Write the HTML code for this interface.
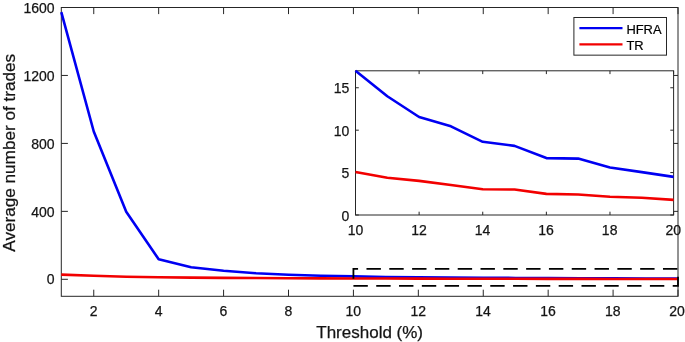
<!DOCTYPE html>
<html><head><meta charset="utf-8"><style>
html,body{margin:0;padding:0;background:#fff;}
body{width:685px;height:342px;overflow:hidden;}
svg{display:block;}
</style></head><body>
<svg width="685" height="342" viewBox="0 0 685 342">
<rect x="0" y="0" width="685" height="342" fill="#ffffff"/>
<g stroke="#262626" stroke-width="1.0" fill="none">
<rect x="61.3" y="7.5" width="616.70" height="288.80"/>
<path d="M93.76,296.3 v-6.6 M93.76,7.5 v6.6"/>
<path d="M158.67,296.3 v-6.6 M158.67,7.5 v6.6"/>
<path d="M223.59,296.3 v-6.6 M223.59,7.5 v6.6"/>
<path d="M288.51,296.3 v-6.6 M288.51,7.5 v6.6"/>
<path d="M353.42,296.3 v-6.6 M353.42,7.5 v6.6"/>
<path d="M418.34,296.3 v-6.6 M418.34,7.5 v6.6"/>
<path d="M483.25,296.3 v-6.6 M483.25,7.5 v6.6"/>
<path d="M548.17,296.3 v-6.6 M548.17,7.5 v6.6"/>
<path d="M613.08,296.3 v-6.6 M613.08,7.5 v6.6"/>
<path d="M678.00,296.3 v-6.6 M678.00,7.5 v6.6"/>
<path d="M61.3,279.31 h6.6 M678.0,279.31 h-6.6"/>
<path d="M61.3,211.36 h6.6 M678.0,211.36 h-6.6"/>
<path d="M61.3,143.41 h6.6 M678.0,143.41 h-6.6"/>
<path d="M61.3,75.45 h6.6 M678.0,75.45 h-6.6"/>
<path d="M61.3,7.50 h6.6 M678.0,7.50 h-6.6"/>
</g>
<polyline points="61.30,12.09 93.76,131.51 126.22,211.70 158.67,259.27 191.13,267.25 223.59,270.82 256.05,273.20 288.51,274.72 320.96,275.74 353.42,276.42 385.88,276.93 418.34,277.35 450.79,277.54 483.25,277.85 515.71,277.93 548.17,278.17 580.63,278.18 613.08,278.36 645.54,278.45 678.00,278.55" fill="none" stroke="#0000f2" stroke-width="2.6" stroke-linejoin="round" stroke-linecap="butt"/>
<polyline points="61.30,274.64 93.76,275.74 126.22,276.68 158.67,277.27 191.13,277.65 223.59,277.88 256.05,278.07 288.51,278.22 320.96,278.34 353.42,278.45 385.88,278.56 418.34,278.63 450.79,278.71 483.25,278.80 515.71,278.80 548.17,278.89 580.63,278.90 613.08,278.95 645.54,278.97 678.00,279.01" fill="none" stroke="#f20000" stroke-width="2.6" stroke-linejoin="round" stroke-linecap="butt"/>
<path d="M353.42,285.80 L678.00,285.80 L678.00,268.90 L353.42,268.90 Z" fill="none" stroke="#000" stroke-width="1.8" stroke-dasharray="14.4 8.407" stroke-linejoin="miter"/>
<g font-family="Liberation Sans, Arial, Helvetica, sans-serif" font-size="14" fill="#141414" stroke="#141414" stroke-width="0.25">
<text x="93.76" y="315.9" text-anchor="middle">2</text>
<text x="158.64" y="315.9" text-anchor="middle">4</text>
<text x="223.52" y="315.9" text-anchor="middle">6</text>
<text x="288.41" y="315.9" text-anchor="middle">8</text>
<text x="353.29" y="315.9" text-anchor="middle">10</text>
<text x="418.17" y="315.9" text-anchor="middle">12</text>
<text x="483.05" y="315.9" text-anchor="middle">14</text>
<text x="547.94" y="315.9" text-anchor="middle">16</text>
<text x="612.82" y="315.9" text-anchor="middle">18</text>
<text x="677.10" y="315.9" text-anchor="middle">20</text>
<text x="54.6" y="284.46" text-anchor="end">0</text>
<text x="54.6" y="216.51" text-anchor="end">400</text>
<text x="54.6" y="148.56" text-anchor="end">800</text>
<text x="54.6" y="80.60" text-anchor="end">1200</text>
<text x="54.6" y="12.65" text-anchor="end">1600</text>
</g>
<text x="369.65" y="337.7" text-anchor="middle" font-family="Liberation Sans, Arial, sans-serif" font-size="17" fill="#141414" stroke="#141414" stroke-width="0.25">Threshold (%)</text>
<text transform="translate(14.5,152.80) rotate(-90)" x="0" y="0" text-anchor="middle" font-family="Liberation Sans, Arial, sans-serif" font-size="17.15" fill="#141414" stroke="#141414" stroke-width="0.25">Average number of trades</text>
<rect x="355.5" y="70.8" width="318.10" height="144.20" fill="#fff"/>
<g stroke="#262626" stroke-width="1.0" fill="none">
<rect x="355.5" y="70.8" width="318.10" height="144.20"/>
<path d="M355.50,215.0 v-3.3 M355.50,70.8 v3.3"/>
<path d="M419.12,215.0 v-3.3 M419.12,70.8 v3.3"/>
<path d="M482.74,215.0 v-3.3 M482.74,70.8 v3.3"/>
<path d="M546.36,215.0 v-3.3 M546.36,70.8 v3.3"/>
<path d="M609.98,215.0 v-3.3 M609.98,70.8 v3.3"/>
<path d="M673.60,215.0 v-3.3 M673.60,70.8 v3.3"/>
<path d="M355.5,215.00 h3.3 M673.6,215.00 h-3.3"/>
<path d="M355.5,172.59 h3.3 M673.6,172.59 h-3.3"/>
<path d="M355.5,130.18 h3.3 M673.6,130.18 h-3.3"/>
<path d="M355.5,87.76 h3.3 M673.6,87.76 h-3.3"/>
</g>
<polyline points="355.50,70.80 387.31,96.25 419.12,117.03 450.93,126.36 482.74,141.80 514.55,145.87 546.36,158.08 578.17,158.59 609.98,167.50 641.79,172.16 673.60,176.91" fill="none" stroke="#0000f2" stroke-width="2.6" stroke-linejoin="round" stroke-linecap="butt"/>
<polyline points="355.50,171.91 387.31,177.68 419.12,180.90 450.93,185.06 482.74,189.21 514.55,189.55 546.36,193.88 578.17,194.47 609.98,196.76 641.79,197.78 673.60,199.90" fill="none" stroke="#f20000" stroke-width="2.6" stroke-linejoin="round" stroke-linecap="butt"/>
<g font-family="Liberation Sans, Arial, Helvetica, sans-serif" font-size="14" fill="#141414" stroke="#141414" stroke-width="0.25">
<text x="355.50" y="235.2" text-anchor="middle">10</text>
<text x="419.04" y="235.2" text-anchor="middle">12</text>
<text x="482.58" y="235.2" text-anchor="middle">14</text>
<text x="546.12" y="235.2" text-anchor="middle">16</text>
<text x="609.66" y="235.2" text-anchor="middle">18</text>
<text x="673.20" y="235.2" text-anchor="middle">20</text>
<text x="349.4" y="220.50" text-anchor="end">0</text>
<text x="349.4" y="178.09" text-anchor="end">5</text>
<text x="349.4" y="135.68" text-anchor="end">10</text>
<text x="349.4" y="93.26" text-anchor="end">15</text>
</g>
<rect x="573.9" y="17.5" width="92.60" height="37.65" fill="#fff" stroke="#262626" stroke-width="1.0"/>
<path d="M579.4,28.15 H622.5" stroke="#0000f2" stroke-width="2.2"/>
<path d="M579.4,44.4 H622.5" stroke="#f20000" stroke-width="2.2"/>
<g font-family="Liberation Sans, Arial, Helvetica, sans-serif" font-size="12.9" fill="#000" stroke="#000" stroke-width="0.2">
<text x="626.4" y="33.5">HFRA</text>
<text x="626.4" y="49.7">TR</text>
</g>
</svg>
</body></html>
